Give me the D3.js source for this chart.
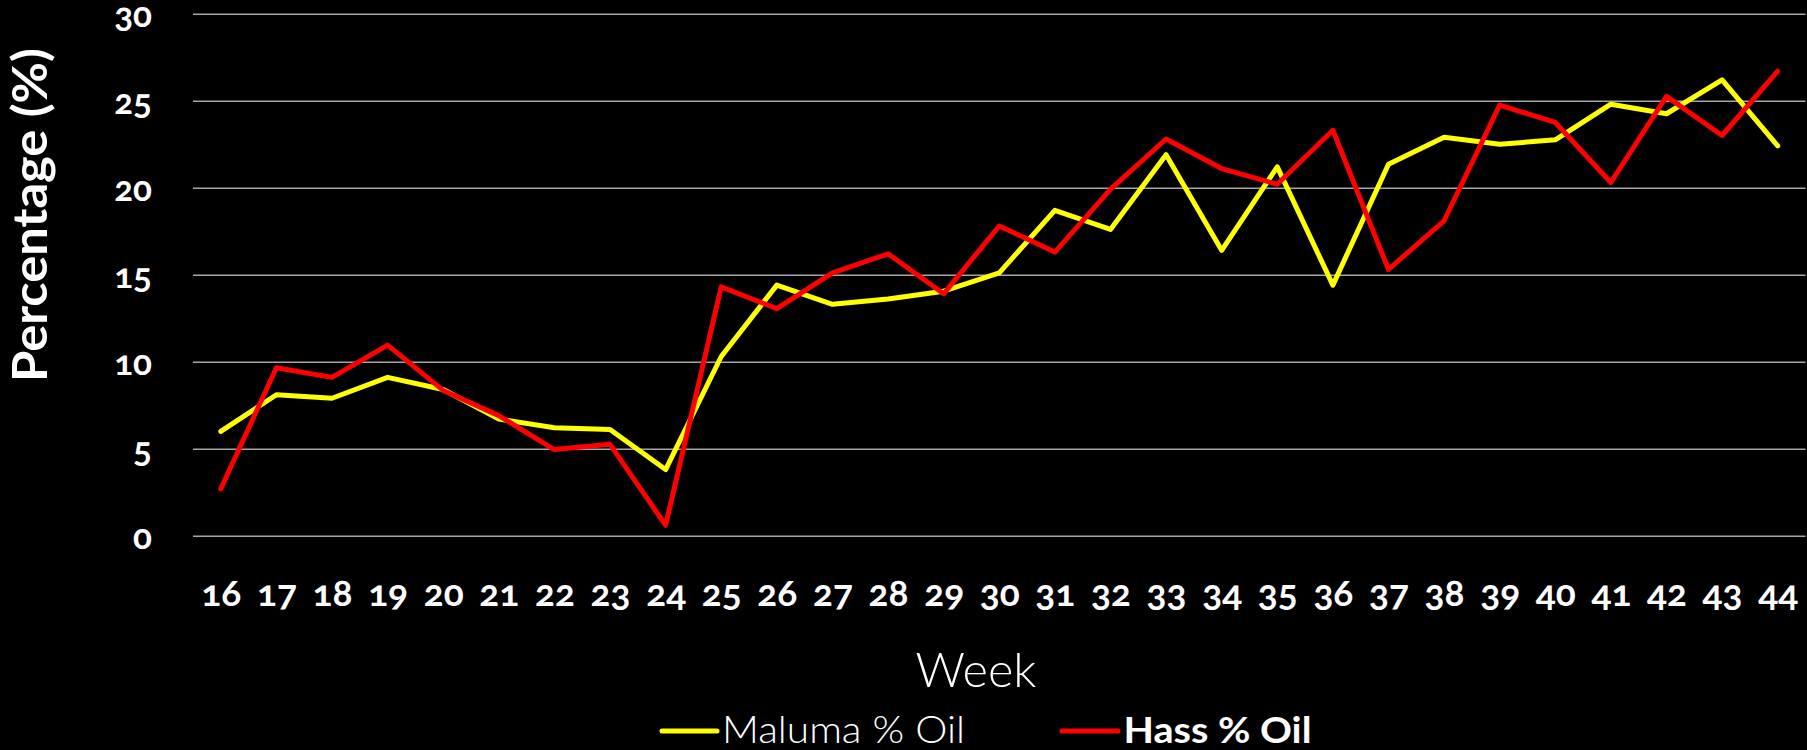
<!DOCTYPE html>
<html>
<head>
<meta charset="utf-8">
<script src="https://cdn.jsdelivr.net/npm/d3@7"></script>
<style>
  html, body { margin: 0; padding: 0; background: #000; }
  svg { display: block; }
  .tick text { font-variant-numeric: oldstyle-nums; font-feature-settings: "onum" 1; }
</style>
</head>
<body>
<svg id="chart" width="1807" height="750"></svg>
<script>
const weeks = [16, 17, 18, 19, 20, 21, 22, 23, 24, 25, 26, 27, 28, 29, 30, 31, 32, 33, 34, 35, 36, 37, 38, 39, 40, 41, 42, 43, 44];
const malumaOil = [6.0, 8.1, 7.9, 9.1, 8.4, 6.7, 6.2, 6.1, 3.8, 10.3, 14.4, 13.3, 13.6, 14.05, 15.1, 18.7, 17.6, 21.9, 16.4, 21.2, 14.4, 21.35, 22.9, 22.5, 22.75, 24.8, 24.25, 26.2, 22.4];
const hassOil = [2.7, 9.65, 9.1, 10.95, 8.35, 6.9, 4.95, 5.25, 0.6, 14.3, 13.05, 15.1, 16.2, 13.9, 17.8, 16.3, 19.9, 22.8, 21.1, 20.2, 23.3, 15.3, 18.1, 24.75, 23.75, 20.3, 25.25, 23.0, 26.7];
const yTicks = [0, 5, 10, 15, 20, 25, 30];
const seriesNames = ["Maluma % Oil", "Hass % Oil"];
const seriesColors = ["#FFFF00", "#FF0000"];

const svg = d3.select("#chart");
svg.append("rect").attr("width", 1807).attr("height", 750).attr("fill", "#000");

const plotLeft = 193, plotRight = 1805.5, plotTop = 13.7, plotBottom = 535.7;

const x = d3.scalePoint().domain(weeks).range([plotLeft, plotRight]).padding(0.5);
const y = d3.scaleLinear().domain([0, 30]).range([plotBottom, plotTop]);

const font = "Lato, 'Open Sans', 'Noto Sans', sans-serif";

// Y axis with gridlines
const yAxis = svg.append("g")
  .attr("transform", `translate(${plotLeft},0)`)
  .call(d3.axisLeft(y).tickValues(yTicks).tickSize(-(plotRight - plotLeft)).tickPadding(41));
yAxis.select(".domain").remove();
yAxis.selectAll(".tick line").attr("stroke", "#a6a6a6").attr("stroke-width", 1.4);
yAxis.selectAll(".tick text")
  .attr("fill", "#fff")
  .attr("font-family", font)
  .attr("font-weight", "bold")
  .attr("font-size", 35)
  .attr("dy", "0.36em");

// X axis labels
const xAxis = svg.append("g")
  .attr("transform", `translate(0,${plotBottom})`)
  .call(d3.axisBottom(x).tickSize(0).tickPadding(0));
xAxis.select(".domain").remove();
xAxis.selectAll(".tick text")
  .attr("fill", "#fff")
  .attr("font-family", font)
  .attr("font-weight", "bold")
  .attr("font-size", 37)
  .attr("dy", null)
  .attr("y", 606 - plotBottom);

// Lines
const line = d3.line().x((d, i) => x(weeks[i])).y(d => y(d));
[malumaOil, hassOil].forEach((vals, k) => {
  svg.append("path")
    .datum(vals)
    .attr("d", line)
    .attr("fill", "none")
    .attr("stroke", seriesColors[k])
    .attr("stroke-width", 5)
    .attr("stroke-linejoin", "round")
    .attr("stroke-linecap", "round");
});

// Y title
svg.append("text")
  .attr("transform", "translate(46.7,215) rotate(-90)")
  .attr("text-anchor", "middle")
  .attr("fill", "#fff")
  .attr("font-family", font)
  .attr("font-weight", "bold")
  .attr("font-size", 48)
  .attr("textLength", 334)
  .attr("lengthAdjust", "spacingAndGlyphs")
  .text("Percentage (%)");

// X title
svg.append("text")
  .attr("x", 976)
  .attr("y", 686.7)
  .attr("text-anchor", "middle")
  .attr("fill", "#fff")
  .attr("font-family", font)
  .attr("font-weight", 300)
  .attr("font-size", 48)
  .attr("textLength", 121)
  .attr("lengthAdjust", "spacingAndGlyphs")
  .text("Week");

// Legend
const legendItems = [
  { x1: 662, x2: 717, tx: 722, tw: 243, weight: 300 },
  { x1: 1062, x2: 1118, tx: 1123.5, tw: 188, weight: "bold" }
];
legendItems.forEach((it, k) => {
  svg.append("line")
    .attr("x1", it.x1).attr("x2", it.x2)
    .attr("y1", 731).attr("y2", 731)
    .attr("stroke", seriesColors[k])
    .attr("stroke-width", 5)
    .attr("stroke-linecap", "round");
  svg.append("text")
    .attr("x", it.tx)
    .attr("y", 743)
    .attr("fill", "#fff")
    .attr("font-family", font)
    .attr("font-weight", it.weight)
    .attr("font-size", 37)
    .attr("textLength", it.tw)
    .attr("lengthAdjust", "spacingAndGlyphs")
    .text(seriesNames[k]);
});
</script>
</body>
</html>
